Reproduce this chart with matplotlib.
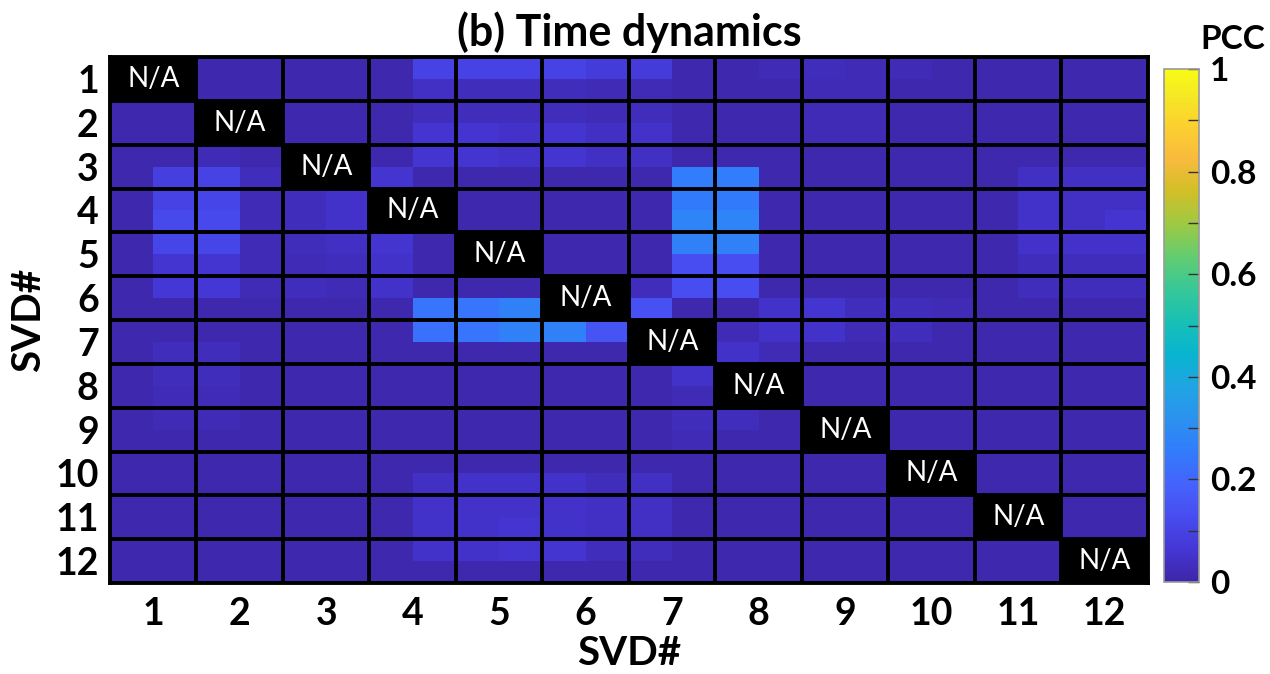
import numpy as np
import matplotlib
matplotlib.use("Agg")
import matplotlib.pyplot as plt
from matplotlib.colors import LinearSegmentedColormap

plt.rcParams['font.family'] = ['Lato', 'DejaVu Sans']

labels = [str(i) for i in range(1, 13)]
n = np.nan

# PCC between SVD components, 2x2 sub-cells per component pair (24 x 24)
pcc = np.array([
    [n, n, .01, .01, .01, .01, .01, .10, .10, .10, .10, .08, .08, .01, .01, .02, .03, .02, .02, .01, .01, .01, .01, .01],
    [n, n, .01, .01, .01, .01, .01, .04, .03, .03, .03, .02, .02, .01, .01, .01, .02, .02, .01, .01, .01, .01, .01, .01],
    [.01, .01, n, n, .01, .01, .01, .03, .03, .03, .03, .02, .03, .01, .01, .01, .02, .02, .01, .01, .01, .01, .01, .01],
    [.01, .01, n, n, .01, .01, .01, .06, .06, .05, .06, .04, .05, .01, .01, .01, .02, .02, .01, .01, .01, .01, .01, .01],
    [.01, .01, .02, .01, n, n, .01, .06, .06, .05, .06, .04, .04, .01, .01, .01, .01, .01, .01, .01, .01, .01, .01, .01],
    [.01, .09, .10, .03, n, n, .06, .01, .01, .01, .01, .01, .01, .26, .26, .01, .01, .01, .01, .01, .01, .04, .04, .04],
    [.01, .10, .11, .02, .03, .05, n, n, .01, .01, .01, .01, .01, .25, .25, .01, .01, .01, .01, .01, .01, .05, .04, .04],
    [.01, .12, .12, .02, .03, .05, n, n, .01, .01, .01, .01, .01, .28, .28, .01, .01, .01, .01, .01, .01, .05, .04, .06],
    [.01, .11, .11, .02, .03, .04, .06, .01, n, n, .01, .01, .01, .27, .27, .01, .01, .01, .01, .01, .01, .05, .05, .05],
    [.01, .06, .06, .02, .02, .03, .05, .01, n, n, .01, .01, .01, .13, .13, .01, .01, .01, .01, .01, .01, .03, .03, .03],
    [.01, .07, .07, .02, .03, .02, .05, .01, .01, .01, n, n, .03, .13, .13, .01, .01, .01, .01, .01, .01, .03, .03, .03],
    [.01, .01, .01, .01, .01, .01, .01, .24, .24, .27, n, n, .14, .01, .01, .05, .06, .03, .03, .02, .01, .01, .01, .01],
    [.01, .01, .01, .01, .01, .01, .01, .23, .24, .27, .27, .15, n, n, .02, .05, .05, .02, .03, .01, .01, .01, .01, .01],
    [.01, .03, .03, .01, .01, .01, .01, .01, .01, .01, .01, .01, n, n, .05, .02, .01, .01, .01, .01, .01, .01, .01, .01],
    [.01, .03, .03, .01, .01, .01, .01, .01, .01, .01, .01, .01, .01, .05, n, n, .01, .01, .01, .01, .01, .01, .01, .01],
    [.01, .02, .02, .01, .01, .01, .01, .01, .01, .01, .01, .01, .01, .02, n, n, .01, .01, .01, .01, .01, .01, .01, .01],
    [.01, .02, .02, .01, .01, .01, .01, .01, .01, .01, .01, .01, .01, .03, .03, .01, n, n, .01, .01, .01, .01, .01, .01],
    [.01, .01, .01, .01, .01, .01, .01, .01, .01, .01, .01, .01, .01, .02, .01, .01, n, n, .01, .01, .01, .01, .01, .01],
    [.01, .01, .01, .01, .01, .01, .01, .01, .01, .01, .01, .01, .01, .01, .01, .01, .01, .01, n, n, .01, .01, .01, .01],
    [.01, .01, .01, .01, .01, .01, .01, .04, .05, .05, .05, .03, .04, .01, .01, .01, .01, .01, n, n, .01, .01, .01, .01],
    [.01, .01, .01, .01, .01, .01, .01, .05, .05, .05, .05, .04, .04, .01, .01, .01, .01, .01, .01, .01, n, n, .01, .01],
    [.01, .01, .01, .01, .01, .01, .01, .05, .05, .06, .05, .04, .04, .01, .01, .01, .01, .01, .01, .01, n, n, .01, .01],
    [.01, .01, .01, .01, .01, .01, .01, .05, .05, .06, .06, .03, .03, .01, .01, .01, .01, .01, .01, .01, .01, .01, n, n],
    [.01, .01, .01, .01, .01, .01, .01, .01, .01, .01, .01, .01, .01, .01, .01, .01, .01, .01, .01, .01, .01, .01, n, n],
])

# parula-like colormap
parula_pts = [0, 4, 8, 12, 16, 20, 24, 28, 32, 36, 40, 44, 48, 52, 56, 60, 63]
parula_rgb = [
    (0.2422, 0.1504, 0.6603), (0.2706, 0.2147, 0.8364), (0.2813, 0.3006, 0.9414),
    (0.2699, 0.3892, 0.9906), (0.1963, 0.4847, 0.9892), (0.1687, 0.5703, 0.9359),
    (0.1248, 0.6459, 0.8883), (0.0297, 0.7082, 0.8163), (0.0964, 0.7500, 0.7120),
    (0.2161, 0.7843, 0.5923), (0.3909, 0.8029, 0.4354), (0.6174, 0.7876, 0.2612),
    (0.8203, 0.7498, 0.1535), (0.9728, 0.7298, 0.2394), (0.9892, 0.8136, 0.1885),
    (0.9597, 0.9135, 0.1423), (0.9769, 0.9839, 0.0805),
]
parula = LinearSegmentedColormap.from_list(
    'parula', list(zip([p / 63 for p in parula_pts], parula_rgb)))
parula.set_bad('black')

fig = plt.figure(figsize=(12.7, 6.74), dpi=100)
ax = fig.add_axes([0.0866, 0.135, 0.8173, 0.7804])
im = ax.imshow(pcc, cmap=parula, vmin=0, vmax=1, aspect='auto',
               interpolation='nearest', extent=[0.5, 12.5, 12.5, 0.5])

# black grid between component blocks
for k in range(13):
    ax.axhline(k + 0.5, color='black', lw=2.8)
    ax.axvline(k + 0.5, color='black', lw=2.8)

for i in range(12):
    ax.text(i + 1, i + 1, 'N/A', color='white', fontsize=20,
            ha='center', va='center')

ax.set_xticks(range(1, 13))
ax.set_yticks(range(1, 13))
ax.set_xticklabels(labels, fontsize=27, fontweight='bold')
ax.set_yticklabels(labels, fontsize=27, fontweight='bold')
ax.tick_params(length=0)
ax.tick_params(axis='x', pad=10)
ax.tick_params(axis='y', pad=8)
for s in ax.spines.values():
    s.set_linewidth(2.8)
ax.set_xlabel('SVD#', fontsize=29, fontweight='bold', labelpad=3)
ax.set_ylabel('SVD#', fontsize=29, fontweight='bold', labelpad=6)
ax.set_title('(b) Time dynamics', fontsize=31, fontweight='bold', pad=8)

cax = fig.add_axes([0.9165, 0.1365, 0.0276, 0.761])
cb = fig.colorbar(im, cax=cax, ticks=[0, 0.2, 0.4, 0.6, 0.8, 1])
cb.set_ticklabels(['0', '0.2', '0.4', '0.6', '0.8', '1'])
cb.ax.minorticks_off()
cb.ax.set_yticks(np.arange(0.1, 1.0, 0.2), minor=True)
cb.ax.tick_params(which='both', direction='in', length=8, width=1,
                  color='#333333', labelsize=24, pad=8)
for t in cb.ax.get_yticklabels():
    t.set_fontweight('bold')
cb.outline.set_edgecolor('#999999')
cb.outline.set_linewidth(1.2)
fig.text(0.971, 0.942, 'PCC', fontsize=24, fontweight='bold',
         ha='center', va='center')

fig.savefig('out.png', dpi=100)
